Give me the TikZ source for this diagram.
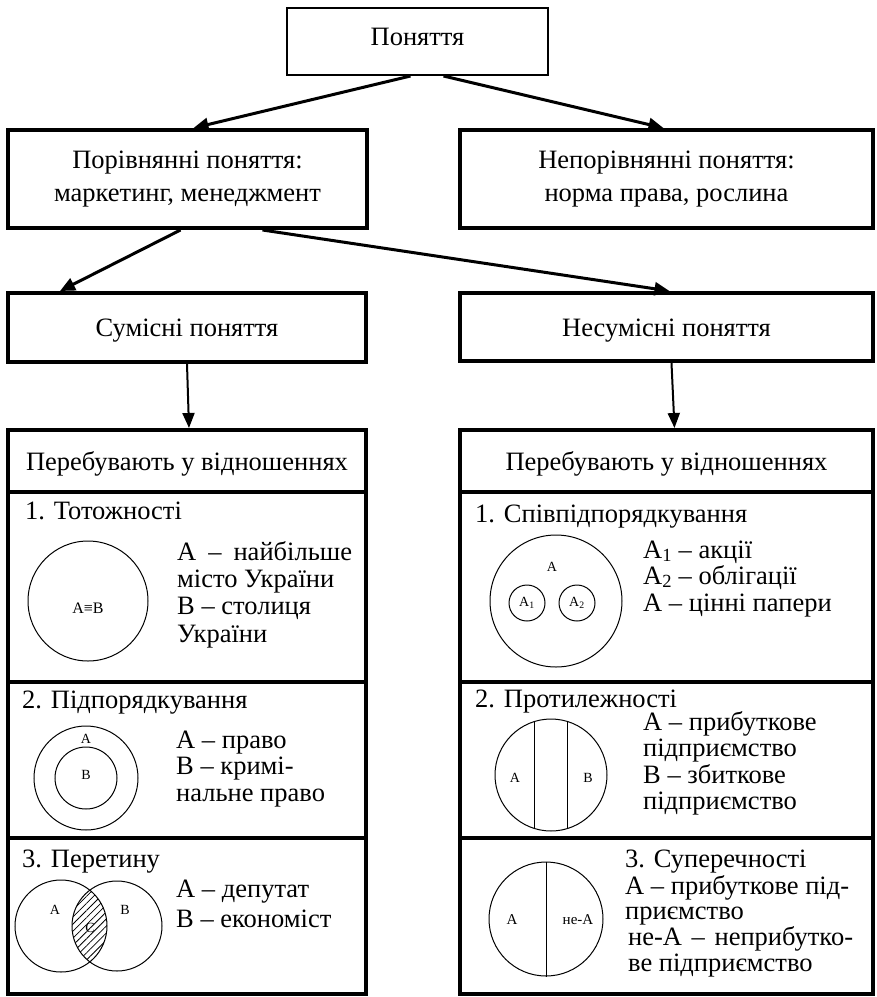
\documentclass[tikz,border=0pt]{standalone}
\usepackage{fontspec}
\setmainfont{Liberation Serif}
\usetikzlibrary{arrows.meta,patterns.meta}
\newcommand\myfs{\fontsize{26.5pt}{33pt}\selectfont}
\newcommand\mysmall{\fontsize{14pt}{14pt}\selectfont}
\begin{document}
\begin{tikzpicture}[x=1pt,y=-1pt,
  box/.style={draw, line width=4pt, inner sep=0pt, font=\myfs},
  onel/.style={text height=18pt, text depth=0pt},
  txt/.style={anchor=base west, inner sep=0pt, font=\myfs},
  lab/.style={inner sep=0pt, font=\mysmall},
  ring/.style={draw, circle, line width=1pt, inner sep=0pt},
  thinl/.style={line width=1pt},
  arrA/.style={line width=3pt, -{Triangle[length=15pt,width=13pt]}},
  arrB/.style={line width=2pt, -{Triangle[length=15pt,width=12pt]}}]
\useasboundingbox (0,0) rectangle (877,997);

% top level
\node[box, line width=2pt, minimum width=261pt, minimum height=67pt, text height=18pt, text depth=11pt] (pon) at (417.5,41.5) {Поняття};
\node[box, minimum width=359pt, minimum height=98pt, align=center] (por) at (187.5,179) {Порівнянні поняття:\\маркетинг, менеджмент};
\node[box, minimum width=413pt, minimum height=98pt, align=center] (nepor) at (666.5,179) {Непорівнянні поняття:\\норма права, рослина};
\node[box, onel, minimum width=358pt, minimum height=69pt] (sum) at (187,327.5) {Сумісні поняття};
\node[box, onel, minimum width=413pt, minimum height=68pt] (nesum) at (666.5,327) {Несумісні поняття};

% tables
\node[box, onel, minimum width=358pt, minimum height=62pt] (lhead) at (187,461) {Перебувають у відношеннях};
\node[box, minimum width=358pt, minimum height=190pt] (lsec1) at (187,587) {};
\node[box, minimum width=358pt, minimum height=156pt] (lsec2) at (187,760) {};
\node[box, minimum width=358pt, minimum height=156pt] (lsec3) at (187,916) {};
\node[box, onel, minimum width=413pt, minimum height=62pt] (rhead) at (666.5,461) {Перебувають у відношеннях};
\node[box, minimum width=413pt, minimum height=190pt] (rsec1) at (666.5,587) {};
\node[box, minimum width=413pt, minimum height=156pt] (rsec2) at (666.5,760) {};
\node[box, minimum width=413pt, minimum height=156pt] (rsec3) at (666.5,916) {};

% arrows
\draw[arrA] ([xshift=-7pt]pon.south) -- ([xshift=6pt]por.north);
\draw[arrA] ([xshift=26pt]pon.south) -- ([xshift=-3pt]nepor.north);
\draw[arrA] ([xshift=-7pt]por.south) -- ([xshift=-127pt]sum.north);
\draw[arrA] ([xshift=75pt]por.south) -- ([xshift=3pt]nesum.north);
\draw[arrB] (sum.south) -- ([xshift=2pt]lhead.north);
\draw[arrB] ([xshift=5pt]nesum.south) -- ([xshift=8pt]rhead.north);

% left section 1: identity
\node[txt] (l1t) at (25,519) {1. Тотожності};
\node[ring, minimum size=120pt] (l1c) at (88,601) {};
\node[lab, font=\fontsize{16pt}{16pt}\selectfont] (l1ab) at (88,608) {A≡B};
\node[txt] (l1a) at (177,560) {А\hspace{12pt}–\hspace{12pt}найбільше};
\node[txt] (l1b) at (177,587) {місто України};
\node[txt] (l1c2) at (177,614) {В – столиця};
\node[txt] (l1d) at (177,642) {України};

% left section 2: subordination
\node[txt] (l2t) at (22,708) {2. Підпорядкування};
\node[ring, minimum size=104pt] (l2o) at (86,778) {};
\node[ring, minimum size=62pt] (l2i) at (86,778) {};
\node[lab] (l2la) at (86,739) {A};
\node[lab] (l2lb) at (86,775) {B};
\node[txt] (l2a) at (176,748) {А – право};
\node[txt] (l2b) at (176,774) {В – кримі-};
\node[txt] (l2c) at (176,801) {нальне право};

% left section 3: intersection
\node[txt] (l3t) at (22,867) {3. Перетину};
\begin{scope}
  \clip (61,926) circle (46pt);
  \fill[pattern={Lines[angle=45,distance=5pt,line width=0.8pt]}] (117,926) circle (45pt);
\end{scope}
\node[ring, minimum size=92pt] (l3ca) at (61,926) {};
\node[ring, minimum size=90pt] (l3cb) at (117,926) {};
\node[lab] (l3la) at (55,910) {A};
\node[lab] (l3lb) at (125,910) {B};
\node[lab] (l3lc) at (90,928) {C};
\node[txt] (l3a) at (176,897) {А – депутат};
\node[txt] (l3b) at (176,927) {В – економіст};

% right section 1: co-subordination
\node[txt] (r1t) at (475,522) {1. Співпідпорядкування};
\node[ring, minimum size=132pt] (r1c) at (556,601) {};
\node[lab] (r1la) at (552,567) {A};
\node[ring, minimum size=36pt, font=\mysmall] (r1a1) at (527,603) {A\textsubscript{1}};
\node[ring, minimum size=36pt, font=\mysmall] (r1a2) at (577,603) {A\textsubscript{2}};
\node[txt] (r1a) at (643,558) {A\textsubscript{1} – акції};
\node[txt] (r1b) at (643,584) {A\textsubscript{2} – облігації};
\node[txt] (r1c2) at (643,611) {А – цінні папери};

% right section 2: contrariety
\node[txt] (r2t) at (475,707) {2. Протилежності};
\node[ring, minimum size=112pt] (r2c) at (551,775) {};
\begin{scope}
  \clip (551,775) circle (56pt);
  \draw[thinl] (534,700) -- (534,850);
  \draw[thinl] (567,700) -- (567,850);
\end{scope}
\node[lab] (r2la) at (515,778) {A};
\node[lab] (r2lb) at (588,778) {B};
\node[txt] (r2a) at (643,730) {А – прибуткове};
\node[txt] (r2b) at (643,756) {підприємство};
\node[txt] (r2c2) at (643,783) {В – збиткове};
\node[txt] (r2d) at (643,809) {підприємство};

% right section 3: contradiction
\node[ring, minimum size=114pt] (r3c) at (546,919) {};
\draw[thinl] (r3c.north) -- (r3c.south);
\node[lab, font=\fontsize{15pt}{15pt}\selectfont] (r3la) at (512,920) {A};
\node[lab, font=\fontsize{15pt}{15pt}\selectfont] (r3lb) at (578,920) {не-А};
\node[txt] (r3t) at (625,867) {3. Суперечності};
\node[txt] (r3a) at (625,894) {А – прибуткове під-};
\node[txt] (r3b) at (625,919) {приємство};
\node[txt] (r3c2) at (628,945) {не-А\hspace{3pt} – \hspace{3pt}неприбутко-};
\node[txt] (r3d) at (628,971) {ве підприємство};
\end{tikzpicture}
\end{document}
